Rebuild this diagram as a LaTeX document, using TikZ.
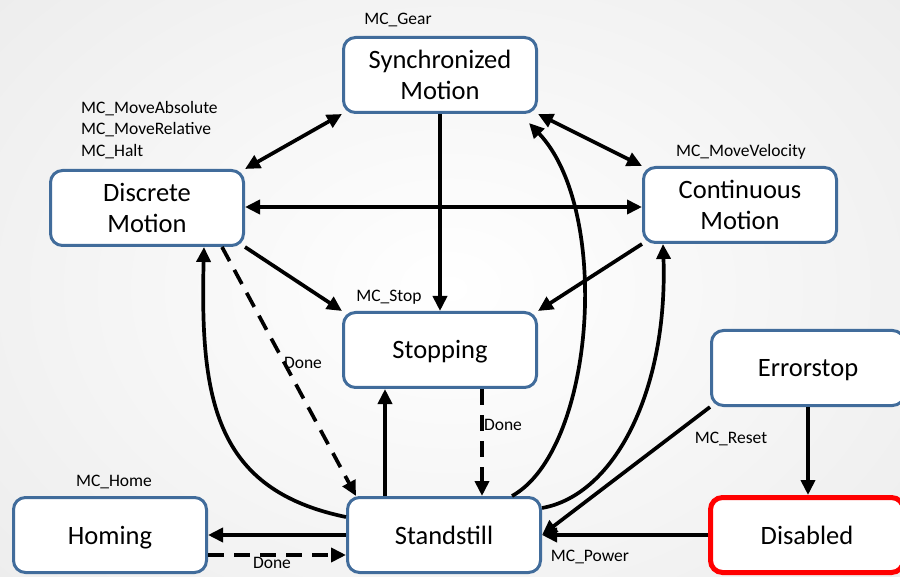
\documentclass[tikz,border=0pt]{standalone}
\usepackage{fontspec}
\setmainfont{Carlito}
\usetikzlibrary{arrows.meta,calc}
\definecolor{boxblue}{RGB}{65,108,155}
\definecolor{boxred}{RGB}{255,0,0}
\begin{document}
\begin{tikzpicture}[x=1pt,y=-1pt,
  state/.style={draw=boxblue, line width=3pt, rounded corners=12pt, fill=white,
    minimum width=193pt, minimum height=75pt, inner sep=0pt, align=center,
    font=\fontsize{26.5}{31}\selectfont},
  single/.style={text height=20pt, text depth=2pt},
  redstate/.style={state, single, draw=boxred, line width=5pt},
  lbl/.style={font=\fontsize{17.5}{21.5}\selectfont, inner sep=0pt},
  conn/.style={line width=3.7pt, -{Triangle[length=15pt,width=14pt]}},
  dconn/.style={conn, {Triangle[length=15pt,width=14pt]}-{Triangle[length=15pt,width=14pt]}},
  dsh/.style={dash pattern=on 16pt off 10pt}
]
\useasboundingbox (0,0) rectangle (900,577);
\shade[shading=radial, inner color=white, outer color=black!7] (-150,-150) rectangle (1050,727);

% states
\node[state] (sync) at (440,75) {Synchronized\\Motion};
\node[state] (disc) at (147,208) {Discrete\\Motion};
\node[state] (cont) at (740,205) {Continuous\\Motion};
\node[state, single] (stop) at (440,350) {Stopping};
\node[state, single] (err) at (808,368) {Errorstop};
\node[state, single] (stand) at (444,535) {Standstill};
\node[state, single] (hom) at (110,535) {Homing};
\node[redstate] (dis) at (807,535) {Disabled};

% labels
\node[lbl] (lgear) at (398,20) {MC\_Gear};
\node[lbl, anchor=west, align=left] (lmove) at (81,130) {MC\_MoveAbsolute\\MC\_MoveRelative\\MC\_Halt};
\node[lbl] (lvel) at (741,152) {MC\_MoveVelocity};
\node[lbl] (lstop) at (389,297) {MC\_Stop};
\node[lbl] (lhome) at (114,482) {MC\_Home};
\node[lbl] (ldone1) at (303,363) {Done};
\node[lbl] (ldone2) at (503,425) {Done};
\node[lbl] (lreset) at (731,439) {MC\_Reset};
\node[lbl] (lpower) at (590,557) {MC\_Power};

% helper coordinates
\coordinate (dce) at ($(disc.east)+(0,-1)$);
\coordinate (ssup) at ($(stand.north)+(-59,0)$);
\coordinate (stdn) at ($(stop.south)+(42,0)$);
\coordinate (hdsh) at ($(hom.east)+(0,20)$);
\coordinate (ddsh) at ($(disc.south)+(75,0)$);
\coordinate (sdsh) at ($(stand.north west)+(10,0)$);
\coordinate (sl) at ($(stand.west)+(0,-18)$);
\coordinate (dbot) at ($(disc.south)+(57,0)$);
\coordinate (stop1) at ($(stand.north)+(68,0)$);
\coordinate (synse) at ($(sync.south east)+(-9,9)$);
\coordinate (sr) at ($(stand.east)+(0,-27)$);
\coordinate (cbot) at ($(cont.south west)+(21,0)$);

% connectors
\draw[dconn] (disc.north east) -- (sync.south west);
\draw[dconn] (sync.south east) -- (cont.north west);
\draw[dconn] (dce) -- (dce -| cont.west);
\draw[conn] (sync.south) -- (stop.north);
\draw[conn] (disc.south east) -- (stop.north west);
\draw[conn] (cont.south west) -- (stop.north east);
\draw[conn, dsh] (ddsh) -- (sdsh);
\draw[conn] (sl) .. controls (215,490) and (200,400) .. (dbot);
\draw[conn] (ssup) -- (ssup |- stop.south);
\draw[conn, dsh] (stdn) -- (stdn |- stand.north);
\draw[conn] (stop1) .. controls (595,450) and (612,210) .. (synse);
\draw[conn] (sr) .. controls (615,495) and (668,390) .. (cbot);
\draw[conn] (stand.west) -- (hom.east);
\draw[conn, dsh] (hdsh) -- (hdsh -| stand.west);
\node[lbl] (ldone3) at (272,563) {Done};
\draw[conn] (err.south west) -- (stand.east);
\draw[conn] (err.south) -- (err.south |- dis.north);
\draw[conn] (dis.west) -- (stand.east);
\end{tikzpicture}
\end{document}
